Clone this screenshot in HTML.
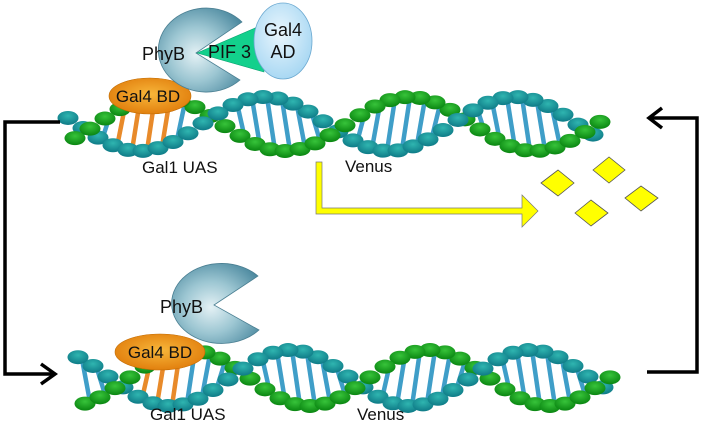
<!DOCTYPE html>
<html><head><meta charset="utf-8"><style>
body{margin:0;background:#fff;width:703px;height:431px;overflow:hidden}
svg{display:block}
text{font-family:"Liberation Sans",sans-serif;fill:#111}
</style></head><body>
<svg id="s" width="703" height="431" viewBox="0 0 703 431" xmlns="http://www.w3.org/2000/svg">
<defs>
<radialGradient id="phy" cx="0.45" cy="0.55" r="0.65"><stop offset="0" stop-color="#e4f1f5"/><stop offset="0.5" stop-color="#9cc6d2"/><stop offset="1" stop-color="#4d8aa0"/></radialGradient>
<radialGradient id="bd" cx="0.5" cy="0.45" r="0.6"><stop offset="0" stop-color="#f7b63a"/><stop offset="1" stop-color="#e07b0a"/></radialGradient>
<radialGradient id="ad" cx="0.45" cy="0.4" r="0.6"><stop offset="0" stop-color="#eaf6fd"/><stop offset="1" stop-color="#a9d8f3"/></radialGradient>
<radialGradient id="gr" cx="0.5" cy="0.35" r="0.6"><stop offset="0" stop-color="#37c33a"/><stop offset="1" stop-color="#0d8a14"/></radialGradient>
<radialGradient id="tl" cx="0.5" cy="0.35" r="0.6"><stop offset="0" stop-color="#2fb5b0"/><stop offset="1" stop-color="#117f8a"/></radialGradient>
</defs>
<g id="dna"></g>
<!-- top proteins -->
<ellipse cx="150" cy="96" rx="41" ry="18" fill="url(#bd)" stroke="#c06a00" stroke-width="0.6"/>
<text x="148" y="102" font-size="17" text-anchor="middle">Gal4 BD</text>
<path d="M242,22 A48,42 0 1 0 240,80 L196,53 Z" fill="url(#phy)" stroke="#4a7f92" stroke-width="0.8"/>
<text x="142" y="60" font-size="18">PhyB</text>
<path d="M197,53 L262,25 L264,72 Z" fill="#13d08c" stroke="#0aa070" stroke-width="0.6"/>
<text x="208" y="58" font-size="18">PIF 3</text>
<ellipse cx="283" cy="41" rx="29" ry="38" fill="url(#ad)" stroke="#6aa8d0" stroke-width="0.8"/>
<text x="283" y="36" font-size="18" text-anchor="middle">Gal4</text>
<text x="283" y="58" font-size="18" text-anchor="middle">AD</text>
<!-- bottom proteins -->
<ellipse cx="160" cy="352" rx="45" ry="18" fill="url(#bd)" stroke="#c06a00" stroke-width="0.6"/>
<text x="160" y="358" font-size="17" text-anchor="middle">Gal4 BD</text>
<path d="M258,276 A50,40 0 1 0 259,330 L214,305 Z" fill="url(#phy)" stroke="#4a7f92" stroke-width="0.8"/>
<text x="160" y="313" font-size="18">PhyB</text>
<!-- labels -->
<text x="142" y="173" font-size="17">Gal1 UAS</text>
<text x="345" y="172" font-size="17">Venus</text>
<text x="150" y="420" font-size="17">Gal1 UAS</text>
<text x="357" y="420" font-size="17">Venus</text>
<!-- black arrows -->
<polyline points="60,122 5,122 5,374 54,374" fill="none" stroke="#000" stroke-width="3.5"/>
<polyline points="41,364 55,374 41,384" fill="none" stroke="#000" stroke-width="3.5"/>
<polyline points="647,372 697,372 697,118 650,118" fill="none" stroke="#000" stroke-width="3.5"/>
<polyline points="662,108 649,118 662,128" fill="none" stroke="#000" stroke-width="3.5"/>
<!-- yellow arrow -->
<path d="M316,162 L322,162 L322,208 L522,208 L522,195 L538,211 L522,227 L522,214 L316,214 Z" fill="#ffff00" stroke="#777" stroke-width="0.7"/>
<g fill="#ffff00" stroke="#555" stroke-width="0.8">
<polygon points="541,183 558,170 574,183 558,196"/>
<polygon points="593,170 609,157 625,170 609,183"/>
<polygon points="575,213 591,200 608,213 591,226"/>
<polygon points="625,198 641,186 658,198 641,211"/>
</g>
</svg>
<script>
var g=document.getElementById('dna'),NS='http://www.w3.org/2000/svg';
function el(t,a){var e=document.createElementNS(NS,t);for(var k in a)e.setAttribute(k,a[k]);g.appendChild(e);}
function dna(x0,x1,c,A,P,ph,uas0,uas1){
 var k=2*Math.PI/P,d=0.5;
 for(var x=x0+4;x<=x1;x+=15){
  var s=Math.sin(k*(x-ph)),s2=Math.sin(k*(x+8-ph)-d);
  if(Math.abs(s)<0.3||Math.abs(s2)<0.3||s*s2<0)continue;
  var o=(x>=uas0&&x<=uas1);
  el('line',{x1:x,y1:c-A*s,x2:x+8,y2:c+A*s2,stroke:o?'#e88a2a':'#3f9ec8','stroke-width':4.5});
 }
 var pts=[];
 for(var x=x0;x<=x1;x+=15){
  var t=k*(x-ph);
  pts.push({x:x,y:c-A*Math.sin(t),z:Math.cos(t),f:'url(#tl)'});
  var t2=k*(x+7-ph)-d;
  pts.push({x:x+7,y:c+A*Math.sin(t2),z:-Math.cos(t2),f:'url(#gr)'});
 }
 pts.sort(function(p,q){return p.z-q.z});
 pts.forEach(function(p){el('ellipse',{cx:p.x,cy:p.y,rx:10.5,ry:7,fill:p.f});});
}
dna(68,598,124,27,250,202,110,170);
dna(78,605,378,28,240,230,125,185);
</script>
</body></html>
